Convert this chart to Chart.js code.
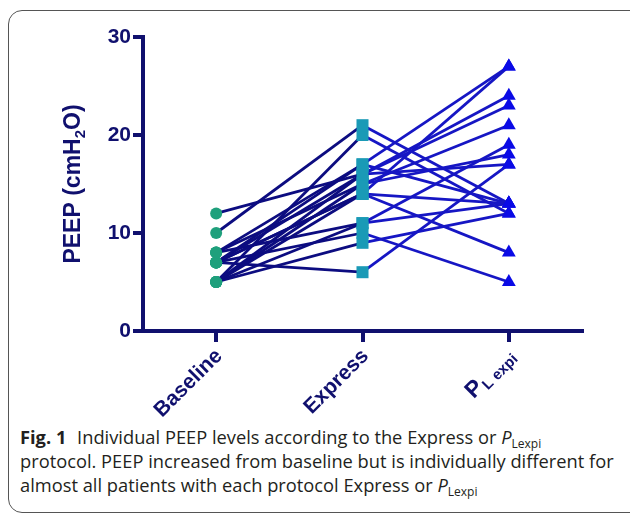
<!DOCTYPE html>
<html>
<head>
<meta charset="utf-8">
<script src="https://cdn.jsdelivr.net/npm/chart.js@4/dist/chart.umd.min.js"></script>
<style>
    html, body { margin: 0; padding: 0; background: #fff; }
    body { width: 630px; height: 516px; position: relative; overflow: hidden; }
    #frame {
        position: absolute; left: 8px; top: 10px; width: 640px; height: 503px;
        border: 1px solid #555; border-radius: 14px; box-sizing: border-box;
    }
    #wrap { position: absolute; left: 0; top: 0; width: 630px; height: 420px; }
    #caption {
        position: absolute; left: 20px; top: 425px; width: 610px;
        font-family: "Open Sans", "Noto Sans", sans-serif; font-size: 18.3px;
        line-height: 24px; color: #231f20; white-space: nowrap;
    }
    #caption b { font-weight: 700; margin-right: 6px; }
    #caption sub { font-size: 12px; vertical-align: -4px; line-height: 0; font-style: normal; }
</style>
</head>
<body>
<div id="frame"></div>
<div id="wrap"><canvas id="peep" width="630" height="420"></canvas></div>
<div id="caption"><b>Fig. 1</b> Individual PEEP levels according to the Express or <i>P</i><sub>Lexpi</sub><br>protocol. PEEP increased from baseline but is individually different for<br>almost all patients with each protocol Express or <i>P</i><sub>Lexpi</sub></div>
<script>
    "use strict";

    // one entry per patient, PEEP in cmH2O
    var categories = ["Baseline", "Express", "PLexpi"];
    var baseline = [12, 10, 5, 8, 7, 5, 7, 8, 5, 7, 5, 7, 8, 5, 7, 5, 7];
    var express = [16, 21, 20, 17, 17, 16, 16, 15, 15, 14, 14, 14, 11, 11, 10, 9, 6];
    var plexpi = [17, 13, 12, 27, 13, 24, 23, 21, 18, 27, 13, 8, 19, 13, 5, 12, 17];
    var yTicks = [0, 10, 20, 30];

    var navy = "#10106e";
    var leftLine = "#0c0c80";
    var rightLine = "#1616c4";

    function each(arr, fn) {
        for (var k = 0; k < arr.length; k++) {
            fn(k, arr[k]);
        }
    }

    var datasets = [];
    each(baseline, function (i) {
        datasets.push({
            data: [baseline[i], express[i], plexpi[i]],
            borderWidth: 2.8,
            segment: {
                borderColor: function (ctx) {
                    return ctx.p0DataIndex === 0 ? leftLine : rightLine;
                },
            },
            borderColor: leftLine,
            pointStyle: ["circle", "rect", "triangle"],
            pointRadius: [6, 8.5, 8],
            pointBackgroundColor: ["#1fa07c", "#1a9ab6", "#0a0ae6"],
            pointBorderWidth: 0,
            tension: 0,
        });
    });

    var labelsPlugin = {
        id: "labels",
        afterDraw: function (chart) {
            var ctx = chart.ctx;
            var x = chart.scales.x;
            var area = chart.chartArea;
            ctx.save();
            ctx.fillStyle = navy;
            ctx.textBaseline = "alphabetic";

            // category labels, rotated 45 degrees
            each(categories, function (i, name) {
                var px = x.getPixelForValue(i);
                ctx.save();
                ctx.translate(px + 7, area.bottom + 26);
                ctx.rotate(-Math.PI / 4);
                ctx.textAlign = "right";
                if (name === "PLexpi") {
                    ctx.font = "bold 15px 'Liberation Sans', Arial, sans-serif";
                    var sub = "L expi";
                    var ws = ctx.measureText(sub).width;
                    ctx.fillText(sub, 0, 4);
                    ctx.font = "bold 23px 'Liberation Sans', Arial, sans-serif";
                    ctx.fillText("P", -ws - 1, 0);
                } else {
                    ctx.font = "bold 21px 'Liberation Sans', Arial, sans-serif";
                    ctx.fillText(name, 0, 0);
                }
                ctx.restore();
            });

            // y title with subscript
            ctx.save();
            ctx.translate(80, (area.top + area.bottom) / 2);
            ctx.rotate(-Math.PI / 2);
            var big = "bold 23px 'Liberation Sans', Arial, sans-serif";
            var small = "bold 15px 'Liberation Sans', Arial, sans-serif";
            ctx.font = big;
            var a = "PEEP (cmH", c = "O)";
            var wa = ctx.measureText(a).width, wc = ctx.measureText(c).width;
            ctx.font = small;
            var wb = ctx.measureText("2").width;
            var start = -(wa + wb + wc) / 2;
            ctx.textAlign = "left";
            ctx.font = big;
            ctx.fillText(a, start, 0);
            ctx.font = small;
            ctx.fillText("2", start + wa, 5);
            ctx.font = big;
            ctx.fillText(c, start + wa + wb, 0);
            ctx.restore();
            ctx.restore();
        },
    };

    new Chart(document.getElementById("peep"), {
        type: "line",
        data: { labels: categories, datasets: datasets },
        options: {
            responsive: false,
            animation: false,
            devicePixelRatio: 1,
            layout: { padding: { top: 37, right: 48, bottom: 0, left: 0 } },
            plugins: { legend: { display: false }, tooltip: { enabled: false } },
            elements: { point: { hitRadius: 0 } },
            clip: false,
            scales: {
                x: {
                    offset: true,
                    afterFit: function (s) { s.height = 89; },
                    grid: {
                        display: true,
                        offset: false,
                        drawOnChartArea: false,
                        drawTicks: true,
                        tickLength: 11,
                        lineWidth: 4,
                        color: navy,
                    },
                    border: { display: true, width: 4, color: navy },
                    ticks: { display: false },
                },
                y: {
                    min: 0,
                    max: 30,
                    afterBuildTicks: function (s) {
                        s.ticks = yTicks.map(function (v) { return { value: v }; });
                    },
                    afterFit: function (s) { s.width = 143; },
                    grid: {
                        display: true,
                        drawOnChartArea: false,
                        drawTicks: true,
                        tickLength: 10,
                        lineWidth: 4,
                        color: navy,
                    },
                    border: { display: true, width: 4, color: navy },
                    ticks: {
                        color: navy,
                        padding: 2,
                        font: { family: "'Liberation Sans', Arial, sans-serif", size: 21, weight: "bold" },
                    },
                },
            },
        },
        plugins: [labelsPlugin],
    });
</script>
</body>
</html>
